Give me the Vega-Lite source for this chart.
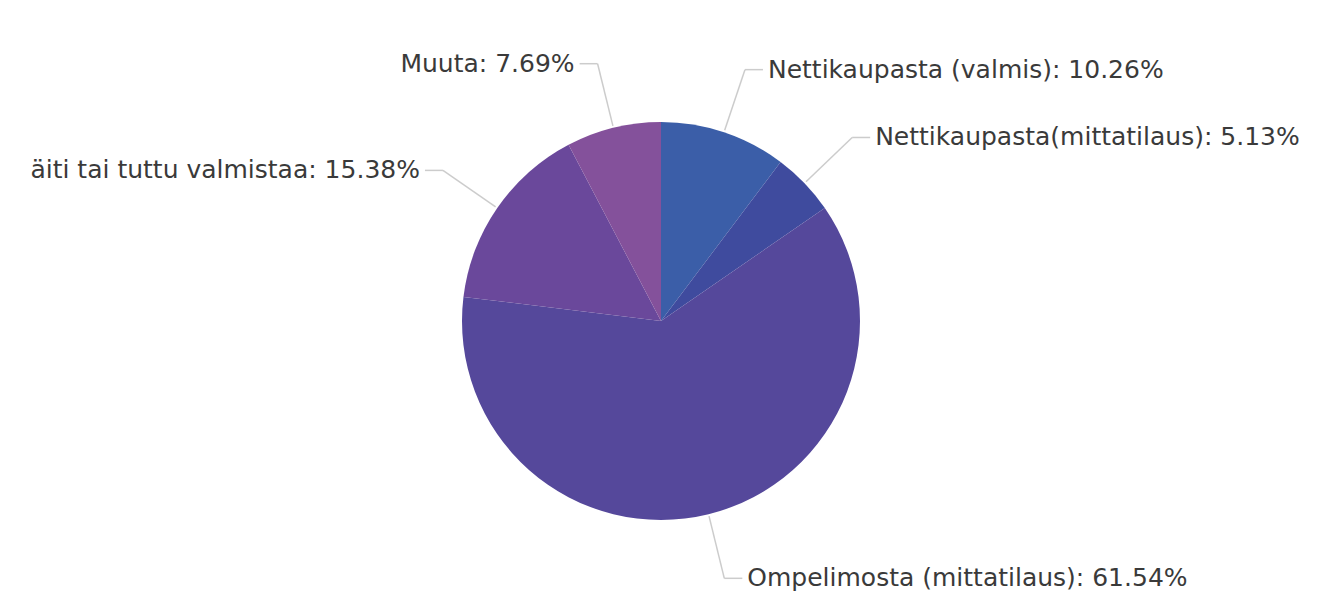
{
  "$schema": "https://vega.github.io/schema/vega-lite/v6.json",
  "width": 1322,
  "height": 642,
  "padding": 0,
  "autosize": {"type": "none"},
  "background": "white",
  "config": {"view": {"stroke": null}},
  "data": {"values": [
    {"kategoria": "Nettikaupasta (valmis)", "osuus": 10.26, "jarjestys": 1},
    {"kategoria": "Nettikaupasta(mittatilaus)", "osuus": 5.13, "jarjestys": 2},
    {"kategoria": "Ompelimosta (mittatilaus)", "osuus": 61.54, "jarjestys": 3},
    {"kategoria": "äiti tai tuttu valmistaa", "osuus": 15.38, "jarjestys": 4},
    {"kategoria": "Muuta", "osuus": 7.69, "jarjestys": 5}
  ]},
  "transform": [
    {"joinaggregate": [{"op": "sum", "field": "osuus", "as": "total"}]},
    {"window": [{"op": "sum", "field": "osuus", "as": "cum"}], "sort": [{"field": "jarjestys"}], "frame": [null, 0]},
    {"calculate": "(datum.cum - datum.osuus / 2) / datum.total * 2 * PI", "as": "a"},
    {"calculate": "201 * sin(datum.a)", "as": "x0"},
    {"calculate": "201 * cos(datum.a)", "as": "y0"},
    {"calculate": "265 * sin(datum.a)", "as": "x1"},
    {"calculate": "265 * cos(datum.a)", "as": "y1"},
    {"calculate": "datum.x1 + (datum.x1 >= 0 ? 18 : -18)", "as": "x2"},
    {"calculate": "datum.x2 + (datum.x1 >= 0 ? 5 : -5)", "as": "xt"},
    {"calculate": "datum.kategoria + ': ' + format(datum.osuus, '.2f') + '%'", "as": "label"}
  ],
  "layer": [
    {
      "mark": {"type": "arc", "outerRadius": 199, "strokeWidth": 0},
      "encoding": {
        "theta": {"field": "osuus", "type": "quantitative", "stack": true},
        "order": {"field": "jarjestys", "type": "quantitative"},
        "color": {
          "field": "kategoria", "type": "nominal", "legend": null,
          "scale": {
            "domain": ["Nettikaupasta (valmis)", "Nettikaupasta(mittatilaus)", "Ompelimosta (mittatilaus)", "äiti tai tuttu valmistaa", "Muuta"],
            "range": ["#3b5ea8", "#3f4b9e", "#55489b", "#6a489b", "#84519b"]
          }
        }
      }
    },
    {
      "mark": {"type": "rule", "color": "#cccccc", "strokeWidth": 1.5},
      "encoding": {
        "x": {"field": "x0", "type": "quantitative", "axis": null, "scale": {"domain": [-661, 661], "nice": false, "zero": false}},
        "y": {"field": "y0", "type": "quantitative", "axis": null, "scale": {"domain": [-321, 321], "nice": false, "zero": false}},
        "x2": {"field": "x1"},
        "y2": {"field": "y1"}
      }
    },
    {
      "mark": {"type": "rule", "color": "#cccccc", "strokeWidth": 1.5},
      "encoding": {
        "x": {"field": "x1", "type": "quantitative", "axis": null},
        "y": {"field": "y1", "type": "quantitative", "axis": null},
        "x2": {"field": "x2"}
      }
    },
    {
      "transform": [{"filter": "datum.x1 >= 0"}],
      "mark": {"type": "text", "align": "left", "baseline": "middle", "font": "DejaVu Sans", "fontSize": 25, "color": "#3a3a3a"},
      "encoding": {
        "x": {"field": "xt", "type": "quantitative", "axis": null},
        "y": {"field": "y1", "type": "quantitative", "axis": null},
        "text": {"field": "label"}
      }
    },
    {
      "transform": [{"filter": "datum.x1 < 0"}],
      "mark": {"type": "text", "align": "right", "baseline": "middle", "font": "DejaVu Sans", "fontSize": 25, "color": "#3a3a3a"},
      "encoding": {
        "x": {"field": "xt", "type": "quantitative", "axis": null},
        "y": {"field": "y1", "type": "quantitative", "axis": null},
        "text": {"field": "label"}
      }
    }
  ]
}
